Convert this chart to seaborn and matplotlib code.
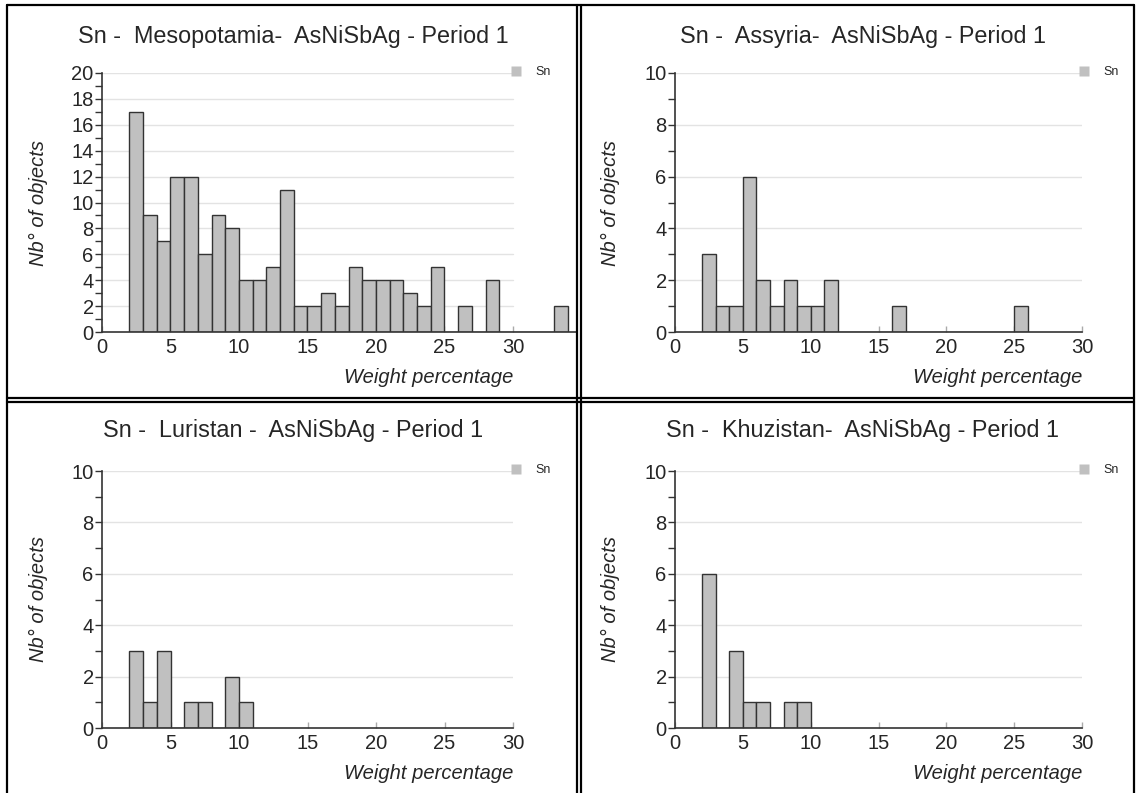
import numpy as np
import pandas as pd
import matplotlib
matplotlib.use("Agg")
import matplotlib.pyplot as plt
import seaborn as sns
from matplotlib.lines import Line2D
from matplotlib.ticker import MultipleLocator

# Datos: limite inferior de cada clase (ancho 1 %) y numero de objetos
meso_bins = [2, 3, 4, 5, 6, 7, 8, 9, 10, 11, 12, 13, 14, 15, 16, 17, 18, 19, 20, 21, 22, 23, 24, 26, 28, 33]
meso_counts = [17, 9, 7, 12, 12, 6, 9, 8, 4, 4, 5, 11, 2, 2, 3, 2, 5, 4, 4, 4, 3, 2, 5, 2, 4, 2]

assy_bins = [2, 3, 4, 5, 6, 7, 8, 9, 10, 11, 16, 25]
assy_counts = [3, 1, 1, 6, 2, 1, 2, 1, 1, 2, 1, 1]

luri_bins = [2, 3, 4, 6, 7, 9, 10]
luri_counts = [3, 1, 3, 1, 1, 2, 1]

khuz_bins = [2, 4, 5, 6, 8, 9]
khuz_counts = [6, 3, 1, 1, 1, 1]

titles = ["Sn -  Mesopotamia-  AsNiSbAg - Period 1",
          "Sn -  Assyria-  AsNiSbAg - Period 1",
          "Sn -  Luristan -  AsNiSbAg - Period 1",
          "Sn -  Khuzistan-  AsNiSbAg - Period 1"]

W, H = 1137, 793
sns.set_theme(style="white")
plt.rcParams['font.family'] = ['Liberation Sans', 'DejaVu Sans']

fig = plt.figure(figsize=(W / 100, H / 100), dpi=100)


def px_box(left, right, bottom, top):
    return [left / W, 1 - bottom / H, (right - left) / W, (bottom - top) / H]


# (bins, counts, xmax, ymax, caja en pixeles, centro del titulo)
paneles = [
    (meso_bins, meso_counts, 34.6, 20, (102, 576, 332, 73), (293, 36)),
    (assy_bins, assy_counts, 30, 10, (675, 1082, 332, 73), (863, 36)),
    (luri_bins, luri_counts, 30, 10, (102, 513, 728, 471), (293, 431)),
    (khuz_bins, khuz_counts, 30, 10, (675, 1082, 728, 471), (863, 431)),
]

for (bins, counts, xmax, ymax, box, tpos), titulo in zip(paneles, titles):
    left, right, bottom, top = box
    ax = fig.add_axes(px_box(left, right, bottom, top))
    df = pd.DataFrame({'pct': np.array(bins) + 0.5, 'n': counts})
    sns.histplot(data=df, x='pct', weights='n', binwidth=1,
                 binrange=(min(bins), max(bins) + 1), ax=ax,
                 color='#c0c0c0', edgecolor='#333333', linewidth=1.0, alpha=1)

    ax.set_xlim(0, xmax)
    ax.set_ylim(0, ymax)
    # rejilla solo hasta 30
    for yv in np.arange(2, ymax + 1, 2):
        ax.plot([0, 30], [yv, yv], color='#e3e3e3', lw=1, zorder=0)

    ax.set_xticks([0, 5, 10, 15, 20, 25, 30])
    ax.yaxis.set_major_locator(MultipleLocator(2))
    ax.yaxis.set_minor_locator(MultipleLocator(1))
    ax.tick_params(axis='y', which='both', left=True, direction='out', length=5,
                   width=1, color='#333333', labelsize=14.5, pad=1)
    ax.tick_params(axis='x', which='major', bottom=True, direction='in', length=4,
                   width=1, color='#aaaaaa', labelsize=14.5, pad=4)
    for s in ['top', 'right']:
        ax.spines[s].set_visible(False)
    for s in ['left', 'bottom']:
        ax.spines[s].set_color('#333333')
        ax.spines[s].set_linewidth(1.2)

    wpx = right - left
    hpx = bottom - top
    ax.set_ylabel("Nb° of objects", fontsize=14.5, style='italic')
    ylab_x = 620 if left > 600 else 48
    ax.yaxis.set_label_coords((ylab_x - left) / wpx, 0.5)
    ax.set_xlabel("Weight percentage", fontsize=14.5, style='italic')
    ax.xaxis.label.set_ha('right')
    ax.xaxis.set_label_coords(30 / xmax, -36 / hpx)

    fig.text(tpos[0] / W, 1 - tpos[1] / H, titulo, fontsize=16.8, ha='center', va='center')

    leg_handle = Line2D([], [], marker='s', linestyle='none', markersize=7,
                        markerfacecolor='#c0c0c0', markeredgecolor='none')
    lx = 503 if left < 600 else 1071
    ax.legend([leg_handle], ['Sn'], loc='center left', frameon=False, fontsize=9,
              handletextpad=0.6, borderpad=0, borderaxespad=0,
              bbox_to_anchor=(lx / W, 1 - (top - 1) / H), bbox_transform=fig.transFigure)

# marcos de los paneles
def linea(x0, y0, x1, y1):
    fig.add_artist(Line2D([x0 / W, x1 / W], [1 - y0 / H, 1 - y1 / H], color='black', lw=1.6))

linea(7, 4.5, 1134, 4.5)
linea(7, 4.5, 7, H)
linea(1134, 4.5, 1134, H)
linea(577, 4.5, 577, H)
linea(581, 4.5, 581, H)
linea(7, 398, 1134, 398)
linea(7, 402, 1134, 402)

plt.savefig('out.png', dpi=100)
